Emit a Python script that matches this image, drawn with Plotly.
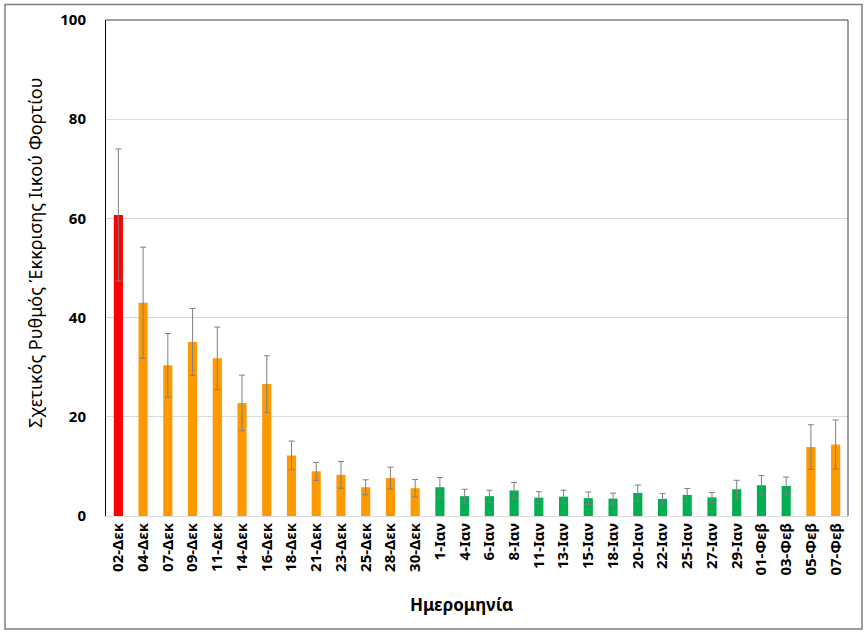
import plotly.graph_objects as go

categories = ["02-Δεκ", "04-Δεκ", "07-Δεκ", "09-Δεκ", "11-Δεκ", "14-Δεκ", "16-Δεκ", "18-Δεκ",
              "21-Δεκ", "23-Δεκ", "25-Δεκ", "28-Δεκ", "30-Δεκ", "1-Ιαν", "4-Ιαν", "6-Ιαν",
              "8-Ιαν", "11-Ιαν", "13-Ιαν", "15-Ιαν", "18-Ιαν", "20-Ιαν", "22-Ιαν", "25-Ιαν",
              "27-Ιαν", "29-Ιαν", "01-Φεβ", "03-Φεβ", "05-Φεβ", "07-Φεβ"]
values = [60.7, 43.0, 30.4, 35.1, 31.8, 22.8, 26.6, 12.2, 9.0, 8.3, 5.8, 7.65, 5.6,
          5.8, 4.0, 4.0, 5.15, 3.7, 3.9, 3.6, 3.5, 4.65, 3.45, 4.25, 3.75, 5.4,
          6.2, 6.05, 13.9, 14.4]
errors = [13.3, 11.2, 6.4, 6.75, 6.3, 5.6, 5.7, 2.9, 1.8, 2.7, 1.5, 2.2, 1.75,
          1.95, 1.4, 1.2, 1.6, 1.2, 1.3, 1.25, 1.1, 1.6, 1.05, 1.3, 1.0, 1.8,
          1.95, 1.8, 4.5, 4.95]
levels = ["high"] + ["mid"] * 12 + ["low"] * 15 + ["mid"] * 2
level_colors = {"high": "#FF0000", "mid": "#FF9900", "low": "#00B050"}
y_ticks = [0, 20, 40, 60, 80, 100]
y_title = "Σχετικός Ρυθμός Έκκρισης Ιικού Φορτίου"
x_title = "Ημερομηνία"

FONT = "Noto Sans"

fig = go.Figure()
fig.add_trace(go.Bar(
    x=categories, y=values,
    marker=dict(color=[level_colors[l] for l in levels], line=dict(width=0)),
    error_y=dict(type="data", array=errors, visible=True, color="#7F7F7F",
                 thickness=1, width=3),
))

W, H = 868, 635
L, R, T, B = 106, 20, 20, 119
pw, ph = W - L - R, H - T - B

def px_x(p):
    return (p - L) / pw

def px_y(p):
    return (H - B - p) / ph

fig.update_layout(
    width=W, height=H,
    margin=dict(l=L, r=R, t=T, b=B, autoexpand=False),
    paper_bgcolor="white", plot_bgcolor="white",
    showlegend=False,
    bargap=0.63,
    font=dict(family=FONT, color="#000000"),
    xaxis=dict(
        type="category", tickangle=-90,
        tickfont=dict(family=FONT, size=15, color="#000000", weight="bold"),
        showline=True, linecolor="#D9D9D9", linewidth=1,
        showgrid=False, ticks="", automargin=False,
    ),
    yaxis=dict(
        range=[0, 100], tickvals=y_ticks,
        tickfont=dict(family=FONT, size=15, color="#000000", weight="bold"),
        showline=True, linecolor="#000000", linewidth=1,
        showgrid=True, gridcolor="#D9D9D9", gridwidth=1,
        zeroline=False, ticks="", ticklabelstandoff=16, automargin=False,
    ),
    shapes=[
        dict(type="line", xref="paper", yref="paper", x0=0, x1=1, y0=1, y1=1,
             line=dict(color="#404040", width=1)),
        dict(type="line", xref="paper", yref="paper", x0=1, x1=1, y0=0, y1=1,
             line=dict(color="#404040", width=1)),
        dict(type="rect", xref="paper", yref="paper",
             x0=px_x(5), x1=px_x(862), y0=px_y(629), y1=px_y(4.5),
             line=dict(color="#7F7F7F", width=1.5), fillcolor="rgba(0,0,0,0)"),
    ],
    annotations=[
        dict(text=y_title, xref="paper", yref="paper", x=px_x(35), y=px_y(253),
             textangle=-90, showarrow=False, xanchor="center", yanchor="middle",
             font=dict(family=FONT, size=18, color="#000000")),
        dict(text=x_title, xref="paper", yref="paper", x=px_x(461), y=px_y(604),
             showarrow=False, xanchor="center", yanchor="middle",
             font=dict(family=FONT, size=17, color="#000000", weight="bold")),
    ],
)

fig.write_html(
    "out.html",
    config={"displayModeBar": False},
    post_script="document.body.style.margin='0';document.body.style.padding='0';",
)
